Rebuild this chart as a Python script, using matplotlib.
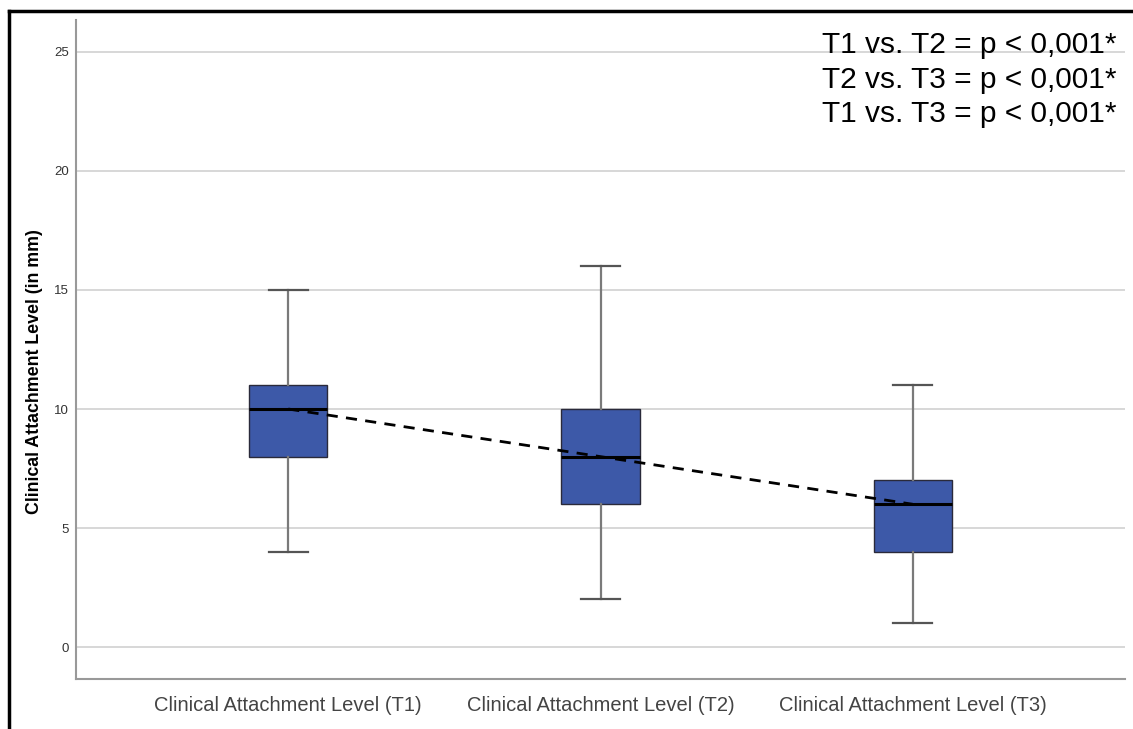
import matplotlib
matplotlib.use("Agg")
import matplotlib.pyplot as plt
from matplotlib.lines import Line2D

plt.rcParams['font.family'] = ['Liberation Sans', 'DejaVu Sans']

# Summary statistics per time point (mm)
categories = ["Clinical Attachment Level (T1)",
              "Clinical Attachment Level (T2)",
              "Clinical Attachment Level (T3)"]
whisker_low = [4, 2, 1]
q1 = [8, 6, 4]
median = [10, 8, 6]
q3 = [11, 10, 7]
whisker_high = [15, 16, 11]
yticks = [0, 5, 10, 15, 20, 25]
pvalue_lines = ["T1 vs. T2 = p < 0,001*",
                "T2 vs. T3 = p < 0,001*",
                "T1 vs. T3 = p < 0,001*"]

box_color = "#3d59a8"

fig = plt.figure(figsize=(11.33, 7.29), dpi=100)
ax = fig.add_axes([76 / 1133, 1 - 679 / 729, (1125 - 76) / 1133, (679 - 20) / 729])

stats = []
for i, name in enumerate(categories):
    stats.append(dict(label=name, whislo=whisker_low[i], q1=q1[i], med=median[i],
                      q3=q3[i], whishi=whisker_high[i], fliers=[]))

positions = list(range(len(categories)))
ax.bxp(stats, positions=positions, widths=0.25, patch_artist=True,
       showfliers=False,
       boxprops=dict(facecolor=box_color, edgecolor="#2a2a3a", linewidth=1.0),
       medianprops=dict(color="black", linewidth=2.2),
       whiskerprops=dict(color="#7a7a7a", linewidth=1.6),
       capprops=dict(color="#555555", linewidth=1.6),
       capwidths=0.125, zorder=3)

# Dashed line joining the medians
ax.plot(positions, median, linestyle=(0, (4, 3)), color="black", linewidth=2.0, zorder=4)

ax.set_xlim(-0.68, 2.68)
ax.set_ylim(-1.34, 26.34)
ax.set_yticks(yticks)
ax.set_yticklabels([str(t) for t in yticks], fontsize=9.5, color="#333333")
ax.set_xticks(positions)
ax.set_xticklabels(categories, fontsize=14.5, color="#444444")
ax.tick_params(axis='y', length=0, pad=5)
ax.tick_params(axis='x', length=0, pad=12)

ax.yaxis.grid(True, color="#d4d4d4", linewidth=1.3)
ax.set_axisbelow(True)
for side in ["top", "right"]:
    ax.spines[side].set_visible(False)
for side in ["left", "bottom"]:
    ax.spines[side].set_color("#999999")
    ax.spines[side].set_linewidth(1.5)

ax.set_ylabel("Clinical Attachment Level (in mm)", fontsize=12.8, fontweight="bold")
ax.yaxis.set_label_coords(-0.0315, 0.467)

for k, line in enumerate(pvalue_lines):
    fig.text(1117 / 1133, 1 - (45 + 34.5 * k) / 729, line, ha="right", va="center",
             fontsize=21.5, color="black")

# Frame lines on the left and top edges
fig.add_artist(Line2D([9 / 1133, 9 / 1133], [0, 1 - 11 / 729], transform=fig.transFigure,
                      color="black", linewidth=2.5, solid_capstyle="projecting"))
fig.add_artist(Line2D([9 / 1133, 1], [1 - 11 / 729, 1 - 11 / 729], transform=fig.transFigure,
                      color="black", linewidth=2.5, solid_capstyle="projecting"))

fig.savefig("out.png", dpi=100)
